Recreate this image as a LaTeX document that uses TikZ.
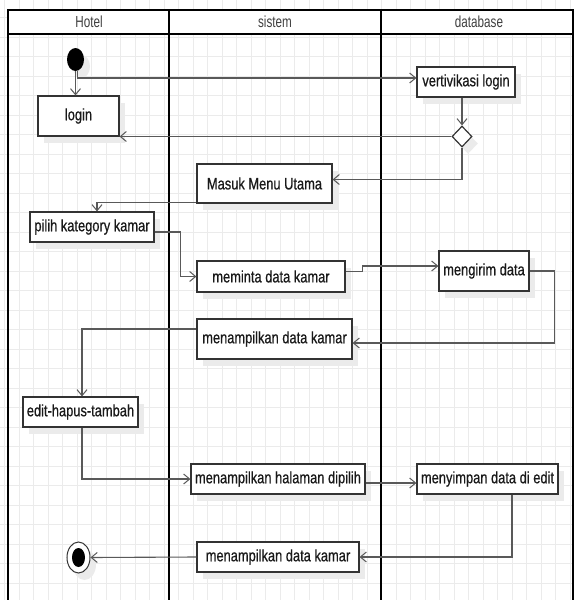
\documentclass[tikz,border=0pt]{standalone}
\usepackage{fontspec}
\setmainfont{Liberation Sans}[FakeStretch=0.78,FakeBold=0.6]
\newfontfamily\headfont{Liberation Sans}[FakeStretch=0.73]
\usetikzlibrary{arrows.meta,shapes.geometric,shadows}
\begin{document}
\begin{tikzpicture}[x=1pt,y=-1pt,
  gridline/.style={draw=black!8,line width=0.6pt},
  shad/.style={drop shadow={shadow xshift=6pt,shadow yshift=-7pt,fill=black!8,opacity=1}},
  box/.style={rectangle,draw=black!80,line width=1.2pt,fill=white,inner sep=0pt,
    text=black!90,font=\fontsize{16.5}{19}\selectfont,shad},
  flow/.style={draw=black!65,line width=1.1pt,-{Straight Barb[length=6pt,width=10pt,line width=1pt]}},
  lane/.style={draw=black,line width=1.8pt},
  head/.style={font=\headfont\fontsize{16}{18}\selectfont,text=black!75,inner sep=0pt}
]
\useasboundingbox (0,0) rectangle (574,600);
% background grid
\foreach \i in {0,...,39} \draw[gridline] ({4.5+14.5*\i},0) -- ({4.5+14.5*\i},600);
\foreach \j in {0,...,31} \draw[gridline] (0,{-2+19.5*\j}) -- (574,{-2+19.5*\j});
% swimlane frame
\fill[white] (8,10) rectangle (573,34);
\draw[lane] (8,610) -- (8,10) -- (573,10) -- (573,610);
\draw[lane] (8,34) -- (573,34);
\draw[lane] (169,10) -- (169,610);
\draw[lane] (381,10) -- (381,610);
\node[head] (hHotel) at (89,22) {Hotel};
\node[head] (hSistem) at (275,22) {sistem};
\node[head] (hDb) at (479,22) {database};
% nodes
\node[ellipse,fill=black,minimum width=17pt,minimum height=23pt,inner sep=0pt,shad] (start) at (75.5,59.5) {};
\node[box,minimum width=81pt,minimum height=40pt] (login) at (78.5,116) {login};
\node[box,minimum width=98pt,minimum height=30pt] (vl) at (466,82) {vertivikasi login};
\node[diamond,draw=black!80,line width=1.2pt,fill=white,inner sep=0pt,minimum width=20pt,minimum height=21pt,shad] (dia) at (462,136.5) {};
\node[box,minimum width=135pt,minimum height=39pt] (mmu) at (264.5,183.5) {Masuk Menu Utama};
\node[box,minimum width=124pt,minimum height=30pt] (pkk) at (92,227) {pilih kategory kamar};
\node[box,minimum width=148pt,minimum height=31pt] (mdk) at (271,276.5) {meminta data kamar};
\node[box,minimum width=90pt,minimum height=40pt] (md) at (484,271) {mengirim data};
\node[box,minimum width=155pt,minimum height=40pt] (mtdk1) at (274.5,339) {menampilkan data kamar};
\node[box,minimum width=115pt,minimum height=30pt] (eht) at (80.5,412) {edit-hapus-tambah};
\node[box,minimum width=174pt,minimum height=30pt] (mhd) at (278,479) {menampilkan halaman dipilih};
\node[box,minimum width=141pt,minimum height=30pt] (msde) at (487.5,479) {menyimpan data di edit};
\node[box,minimum width=162pt,minimum height=30pt] (mtdk2) at (278,557) {menampilkan data kamar};
\node[ellipse,draw=black!80,line width=1pt,fill=white,minimum width=23pt,minimum height=31pt,inner sep=0pt,shad] (end) at (78.5,557.5) {};
\node[ellipse,fill=black,minimum width=13pt,minimum height=19pt,inner sep=0pt] (endin) at (end.center) {};
% connectors
\draw[flow] (start.south) -- (start.south |- login.north);
\draw[flow] ([xshift=2pt]start.south) |- ([yshift=4pt]vl.west);
\draw[flow] (vl.south -| dia.north) -- (dia.north);
\draw[flow] (dia.west) -- (dia.west -| login.east);
\draw[flow] (dia.south) |- ([yshift=4pt]mmu.east);
\draw[flow] ([yshift=1.5pt]mmu.south west) -| ([xshift=5pt]pkk.north);
\draw[flow] ([yshift=-5pt]pkk.east) -- ++(26,0) |- (mdk.west);
\draw[flow] ([yshift=5pt]mdk.east) -- ++(17,0) |- ([yshift=5pt]md.west);
\draw[flow] (md.east) -- ++(25,0) |- ([yshift=-4pt]mtdk1.east);
\draw[flow] ([yshift=10pt]mtdk1.west) -| ([xshift=1.5pt]eht.north);
\draw[flow] ([xshift=1.5pt]eht.south) |- (mhd.west);
\draw[flow] ([yshift=-4pt]mhd.east) -- ([yshift=-4pt]msde.west);
\draw[flow] ([xshift=24.5pt]msde.south) |- (mtdk2.east);
\draw[flow] (mtdk2.west) -- (end.east);
\end{tikzpicture}
\end{document}
